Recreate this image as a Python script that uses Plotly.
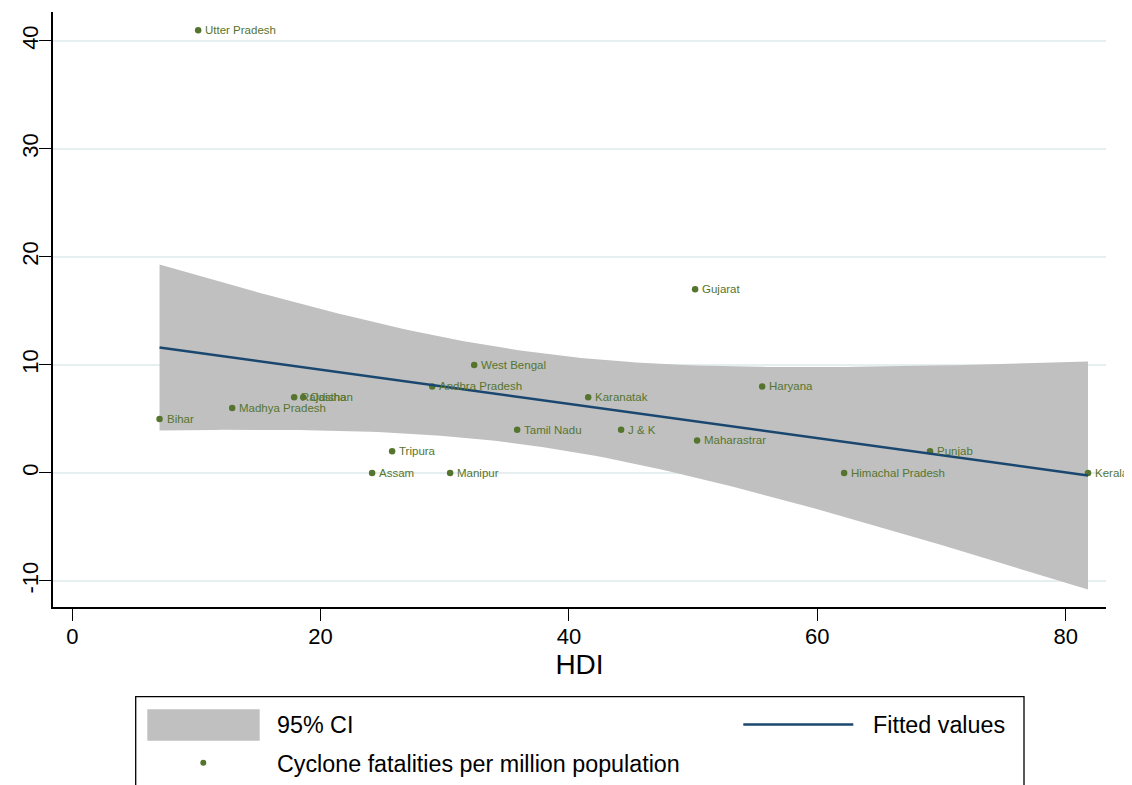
import numpy as np
import plotly.graph_objects as go

# ---- data ----
states = ["Utter Pradesh", "Bihar", "Madhya Pradesh", "Rajasthan", "Odisha",
          "Andhra Pradesh", "West Bengal", "Tripura", "Assam", "Manipur",
          "Tamil Nadu", "Karanatak", "J & K", "Gujarat", "Maharastrar",
          "Haryana", "Himachal Pradesh", "Punjab", "Kerala"]
hdi = [10.14, 7.03, 12.88, 17.87, 18.6,
       28.99, 32.37, 25.76, 24.15, 30.43,
       35.83, 41.55, 44.2, 50.16, 50.32,
       55.56, 62.16, 69.08, 81.8]
fatalities = [41, 5, 6, 7, 7,
              8, 10, 2, 0, 0,
              4, 7, 4, 17, 3,
              8, 0, 2, 0]

x_ticks = [0, 20, 40, 60, 80]
y_ticks = [-10, 0, 10, 20, 30, 40]
y_tick_labels = ["-10", "0", "10", "20", "30", "40"]

# ---- linear fit with 95% CI (as in Stata lfitci) ----
xa = np.array(hdi)
ya = np.array(fatalities, dtype=float)
n = len(xa)
slope, intercept = np.polyfit(xa, ya, 1)
resid = ya - (intercept + slope * xa)
s = np.sqrt(np.sum(resid ** 2) / (n - 2))
sxx = np.sum((xa - xa.mean()) ** 2)
t_crit = 2.1098  # t(0.975, 17 df)
xg = np.linspace(xa.min(), xa.max(), 120)
yfit = intercept + slope * xg
se = s * np.sqrt(1.0 / n + (xg - xa.mean()) ** 2 / sxx)
upper = yfit + t_crit * se
lower = yfit - t_crit * se

# ---- colours ----
CI_COL = "rgb(192,192,192)"
LINE_COL = "#1a476f"
PT_COL = "#55752f"
GRID_COL = "#e6eef0"
FONT = "Liberation Sans, Arial, Helvetica, sans-serif"

OFF = 8  # page body margin
W, H = 1132 - OFF, 785 - OFF
L, T = 53 - OFF, 12 - OFF
R = W - (1106 - OFF)
B = H - (607 - OFF)
PW, PH = W - L - R, H - T - B


def px(x):
    # page pixel -> paper coordinate
    return (x - OFF - L) / PW


def py(y):
    return (H - B - (y - OFF)) / PH


fig = go.Figure()
fig.add_trace(go.Scatter(
    x=np.concatenate([xg, xg[::-1]]), y=np.concatenate([upper, lower[::-1]]),
    fill="toself", fillcolor=CI_COL, line=dict(width=0), mode="lines",
    hoverinfo="skip", name="95% CI", showlegend=False))
fig.add_trace(go.Scatter(
    x=hdi, y=fatalities, mode="markers", text=states,
    marker=dict(size=6.5, color=PT_COL), cliponaxis=False,
    name="Cyclone fatalities per million population", showlegend=False))
fig.add_trace(go.Scatter(
    x=xg, y=yfit, mode="lines", line=dict(color=LINE_COL, width=2.5),
    name="Fitted values", showlegend=False))

# ---- point labels (marker labels at 3 o'clock) ----
annotations = [
    dict(text=name, x=xv, y=yv, xref="x", yref="y", xanchor="left",
         yanchor="middle", xshift=5, showarrow=False,
         font=dict(size=11.5, color=PT_COL, family=FONT))
    for name, xv, yv in zip(states, hdi, fatalities)
]

# ---- manual legend (Stata style) ----
LEG_FONT = dict(size=23.3, color="black", family=FONT)
shapes = [
    dict(type="rect", xref="paper", yref="paper",
         x0=px(135.7), x1=px(1024), y0=py(696.7), y1=py(800),
         line=dict(color="black", width=1.3), fillcolor="rgba(0,0,0,0)"),
    dict(type="rect", xref="paper", yref="paper",
         x0=px(147.3), x1=px(259.7), y0=py(709.3), y1=py(740.7),
         line=dict(width=0), fillcolor=CI_COL),
    dict(type="line", xref="paper", yref="paper",
         x0=px(743.3), x1=px(853.3), y0=py(724.5), y1=py(724.5),
         line=dict(color=LINE_COL, width=2.5)),
    dict(type="circle", xref="paper", yref="paper",
         x0=px(200.3), x1=px(206.3), y0=py(759.7), y1=py(765.7),
         line=dict(width=0), fillcolor=PT_COL),
]
annotations += [
    dict(text="95% CI", x=px(275), y=py(725), xref="paper", yref="paper",
         xanchor="left", yanchor="middle", showarrow=False, font=LEG_FONT),
    dict(text="Fitted values", x=px(871), y=py(725), xref="paper", yref="paper",
         xanchor="left", yanchor="middle", showarrow=False, font=LEG_FONT),
    dict(text="Cyclone fatalities per million population", x=px(275), y=py(764),
         xref="paper", yref="paper", xanchor="left", yanchor="middle",
         showarrow=False, font=LEG_FONT),
]

fig.update_layout(
    width=W, height=H,
    margin=dict(l=L, r=R, t=T, b=B),
    paper_bgcolor="white", plot_bgcolor="white",
    font=dict(family=FONT, color="black"),
    showlegend=False,
    shapes=shapes, annotations=annotations,
    xaxis=dict(range=[-1.55, 83.25], tickvals=x_ticks, ticks="outside",
               ticklen=12, tickwidth=1.3, tickcolor="black",
               showline=True, linecolor="black", linewidth=1.6,
               showgrid=False, zeroline=False, automargin=False,
               ticklabelstandoff=-3,
               tickfont=dict(size=22, family=FONT),
               title=dict(text="HDI", font=dict(size=28, family=FONT), standoff=2)),
    yaxis=dict(range=[-12.42, 42.68], tickvals=y_ticks, ticktext=y_tick_labels,
               ticks="outside",
               ticklen=12, tickwidth=1.3, tickcolor="black",
               showline=True, linecolor="black", linewidth=1.6,
               showgrid=True, gridcolor=GRID_COL, gridwidth=1.5,
               zeroline=False, automargin=False, tickangle=-90,
               ticklabelstandoff=-8,
               tickfont=dict(size=22, family=FONT)),
)

fig.write_html("out.html")
